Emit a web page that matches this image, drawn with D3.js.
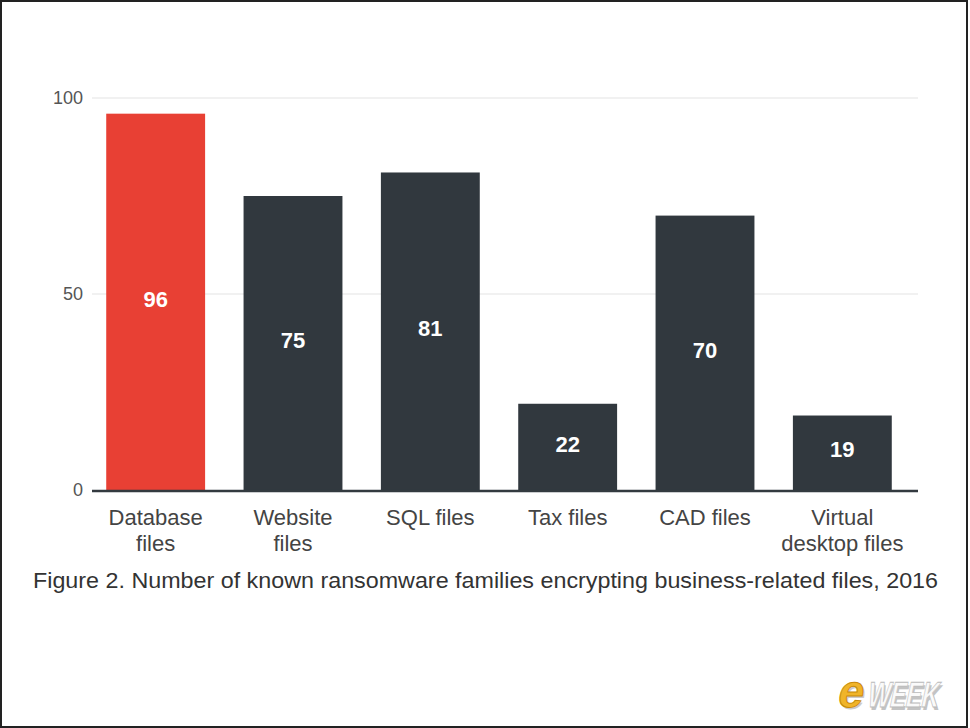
<!DOCTYPE html>
<html><head><meta charset="utf-8">
<script src="https://cdn.jsdelivr.net/npm/d3@7"></script>
<style>
html,body{margin:0;padding:0;background:#fff;}
svg{display:block;}
text{font-family:"Liberation Sans",Arial,Helvetica,sans-serif;}
</style></head>
<body>
<script>
const categories = [["Database","files"],["Website","files"],["SQL files"],["Tax files"],["CAD files"],["Virtual","desktop files"]];
const values = [96, 75, 81, 22, 70, 19];
const highlight = [true, false, false, false, false, false];
const yTicks = [0, 50, 100];
const caption = "Figure 2. Number of known ransomware families encrypting business-related files, 2016";

const W = 970, H = 728;
const svg = d3.select("body").append("svg").attr("width", W).attr("height", H);
svg.append("rect").attr("x",0).attr("y",0).attr("width",W).attr("height",H).attr("fill","#fff");

const y = d3.scaleLinear().domain([0,100]).range([490, 98]);
const x = d3.scaleBand().domain(d3.range(values.length)).range([87, 911]).paddingInner(0.28).paddingOuter(0.14);

// gridlines
svg.append("g").selectAll("line").data(yTicks.filter(d=>d>0)).join("line")
  .attr("x1",92).attr("x2",918).attr("y1",d=>y(d)).attr("y2",d=>y(d))
  .attr("stroke","#ececec").attr("stroke-width",1.5);

// y tick labels
svg.append("g").selectAll("text").data(yTicks).join("text")
  .attr("x",83).attr("y",d=>y(d)).attr("dy","0.35em").attr("text-anchor","end")
  .attr("font-size",18).attr("fill","#555").text(d=>d);

// bars
svg.append("g").selectAll("rect").data(values).join("rect")
  .attr("x",(d,i)=>x(i)).attr("width",x.bandwidth())
  .attr("y",d=>y(d)).attr("height",d=>y(0)-y(d))
  .attr("fill",(d,i)=>highlight[i]?"#e84034":"#31383e");

// value labels
svg.append("g").selectAll("text").data(values).join("text")
  .attr("x",(d,i)=>x(i)+x.bandwidth()/2).attr("y",d=>(y(d)+y(0))/2 - 3)
  .attr("dy","0.35em").attr("text-anchor","middle")
  .attr("font-size",22).attr("font-weight","bold").attr("fill","#fff").text(d=>d);

// axis line
svg.append("line").attr("x1",92).attr("x2",918).attr("y1",y(0)+1).attr("y2",y(0)+1)
  .attr("stroke","#333a40").attr("stroke-width",2.5);

// category labels
const cat = svg.append("g").selectAll("text").data(categories).join("text")
  .attr("text-anchor","middle").attr("font-size",22).attr("fill","#444");
cat.each(function(lines,i){
  d3.select(this).selectAll("tspan").data(lines).join("tspan")
    .attr("x",x(i)+x.bandwidth()/2).attr("y",(l,j)=>525+j*26).text(l=>l);
});

// caption
svg.append("text").attr("x",33).attr("y",588).attr("font-size",22).attr("fill","#333")
  .attr("textLength",905).attr("lengthAdjust","spacingAndGlyphs").text(caption);

// eWEEK logo
const logo = svg.append("g").attr("transform","translate(836,707) skewX(-12)");
logo.append("text").attr("x",2).attr("y",2).attr("font-size",46).attr("font-weight","bold").attr("fill","#999").attr("opacity",0.5).text("e");
logo.append("text").attr("x",0).attr("y",0).attr("font-size",46).attr("font-weight","bold").attr("fill","#f0b429").attr("stroke","#c98a0a").attr("stroke-width",1).text("e");
const wk = logo.append("g").attr("transform","translate(30,0) scale(0.66,1)");
wk.append("text").attr("x",3).attr("y",3).attr("font-size",36).attr("font-weight","bold").attr("fill","#888").attr("opacity",0.5).text("WEEK");
wk.append("text").attr("x",0).attr("y",0).attr("font-size",36).attr("font-weight","bold").attr("fill","#fafafa").attr("stroke","#bbb").attr("stroke-width",0.8).text("WEEK");

// frame
svg.append("rect").attr("x",1).attr("y",1).attr("width",W-4).attr("height",H-2)
  .attr("fill","none").attr("stroke","#222").attr("stroke-width",2);
</script>
</body></html>
